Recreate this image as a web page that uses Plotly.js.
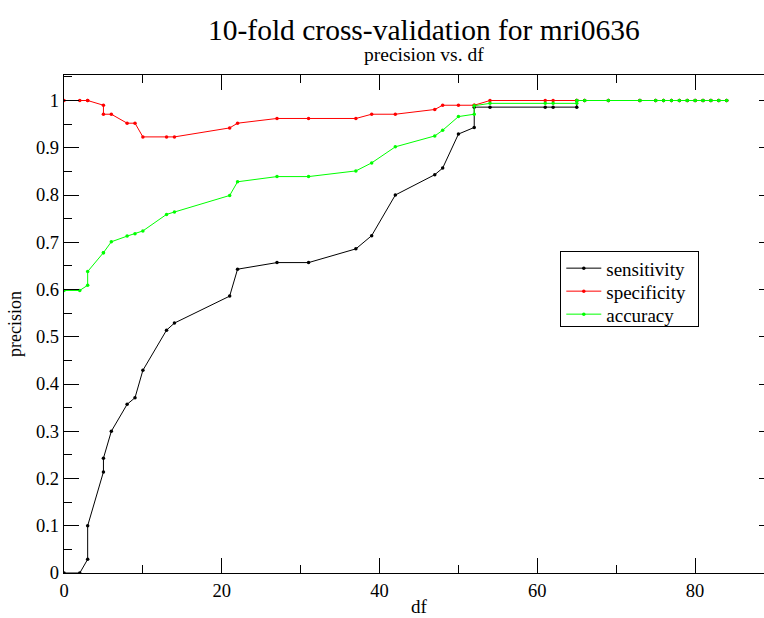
<!DOCTYPE html>
<html>
<head>
<meta charset="utf-8">
<script src="https://cdn.plot.ly/plotly-3.0.1.min.js"></script>
<style>
html, body { margin: 0; padding: 0; overflow: hidden; background: #fff; }
#chart { width: 800px; height: 618px; }
</style>
</head>
<body>
<div id="chart"></div>
<script>
// df values (shared by all three series)
const df = [0, 2, 3, 3, 5, 5, 6, 8, 9, 10, 13, 14, 21, 22, 27, 31, 37, 39, 42, 47, 48, 50, 52, 52, 54, 61, 62, 65, 65, 66, 69, 73, 75, 76, 77, 78, 79, 80, 81, 82, 83, 84];

const sensitivity = [0, 0, 0.029, 0.1, 0.214, 0.243, 0.3, 0.357, 0.371, 0.429, 0.514, 0.529, 0.586, 0.643, 0.657, 0.657, 0.686, 0.714, 0.8, 0.843, 0.857, 0.929, 0.943, 0.986, 0.986, 0.986, 0.986, 0.986, 1, 1, 1, 1, 1, 1, 1, 1, 1, 1, 1, 1, 1, 1];

const specificity = [1, 1, 1, 1, 0.990, 0.971, 0.971, 0.952, 0.952, 0.923, 0.923, 0.923, 0.942, 0.952, 0.962, 0.962, 0.962, 0.971, 0.971, 0.981, 0.990, 0.990, 0.990, 0.990, 1, 1, 1, 1, 1, 1, 1, 1, 1, 1, 1, 1, 1, 1, 1, 1, 1, 1];

const accuracy = [0.598, 0.598, 0.609, 0.638, 0.678, 0.678, 0.701, 0.713, 0.718, 0.724, 0.759, 0.764, 0.799, 0.828, 0.839, 0.839, 0.851, 0.868, 0.902, 0.925, 0.937, 0.966, 0.971, 0.989, 0.994, 0.994, 0.994, 0.994, 1, 1, 1, 1, 1, 1, 1, 1, 1, 1, 1, 1, 1, 1];

const seriesNames = ["sensitivity", "specificity", "accuracy"];
const xTickVals = [0, 20, 40, 60, 80];
const yTickVals = [0, 0.1, 0.2, 0.3, 0.4, 0.5, 0.6, 0.7, 0.8, 0.9, 1];
const yTickText = ["0", "0.1", "0.2", "0.3", "0.4", "0.5", "0.6", "0.7", "0.8", "0.9", "1"];

const FONT = "Liberation Serif";

function trace(y, name, color) {
  return {
    x: df, y: y, name: name, type: "scatter", mode: "lines+markers",
    line: { color: color, width: 1 },
    marker: { color: color, size: 3.5, symbol: "circle" }
  };
}

const data = [
  trace(sensitivity, seriesNames[0], "#000000"),
  trace(specificity, seriesNames[1], "#ff0000"),
  trace(accuracy, seriesNames[2], "#00ff00")
];

const axisCommon = {
  showgrid: false, zeroline: false, showline: true, linecolor: "#000", linewidth: 1.3,
  mirror: "allticks", ticks: "inside", ticklen: 15, tickwidth: 1, tickcolor: "#000",
  tickfont: { family: FONT, size: 18.5, color: "#000" }
};

const layout = {
  width: 800, height: 618,
  margin: { l: 64, r: 26, t: 75, b: 45 },
  paper_bgcolor: "#fff", plot_bgcolor: "#fff",
  font: { family: FONT, color: "#000" },
  showlegend: true,
  xaxis: Object.assign({}, axisCommon, {
    range: [0, 90], tickvals: xTickVals,
    minor: { dtick: 10, tick0: 0, ticks: "inside", ticklen: 8, tickcolor: "#000", showgrid: false },
    title: { text: "df", font: { family: FONT, size: 19, color: "#000" }, standoff: 0 }
  }),
  yaxis: Object.assign({}, axisCommon, {
    range: [0, 1.054], tickvals: yTickVals, ticktext: yTickText,
    minor: { dtick: 0.05, tick0: 0, ticks: "inside", ticklen: 8, tickcolor: "#000", showgrid: false },
    title: { text: "precision", font: { family: FONT, size: 18, color: "#000" }, standoff: 9 }
  }),
  legend: {
    x: 0.699, y: 0.646, xanchor: "left", yanchor: "top",
    bgcolor: "#fff", bordercolor: "#000", borderwidth: 1,
    font: { family: FONT, size: 19, color: "#000" },
    tracegroupgap: 0, itemwidth: 35
  },
  annotations: [
    { text: "10-fold cross-validation for mri0636", xref: "paper", yref: "paper",
      x: 0.507, y: (572.7 - 30) / 497.7, xanchor: "center", yanchor: "middle", showarrow: false,
      font: { family: FONT, size: 29.5, color: "#000" } },
    { text: "precision vs. df", xref: "paper", yref: "paper",
      x: 0.507, y: (572.7 - 55) / 497.7, xanchor: "center", yanchor: "middle", showarrow: false,
      font: { family: FONT, size: 19.5, color: "#000" } }
  ]
};

Plotly.newPlot("chart", data, layout, { displayModeBar: false, staticPlot: true }).then(function (gd) {
  // tighten legend rows and box to match the reference (23px rows, 138x75 box)
  const items = gd.querySelectorAll(".legend .traces");
  if (items.length < 2) return;
  const parse = function (el) {
    const m = /translate\(\s*([-\d.]+)[ ,]+([-\d.]+)\s*\)/.exec(el.getAttribute("transform") || "");
    return m ? [parseFloat(m[1]), parseFloat(m[2])] : [0, 0];
  };
  const first = parse(items[0]);
  const step = 23;
  items.forEach(function (el, i) {
    const p = parse(el);
    el.setAttribute("transform", "translate(" + p[0] + "," + (first[1] - 3 + i * step) + ")");
  });
  const bg = gd.querySelector(".legend .bg");
  if (bg) {
    bg.setAttribute("height", 75);
    bg.setAttribute("width", 138);
  }
  const clip = document.querySelector("clipPath[id*='legend'] rect");
  if (clip) {
    clip.setAttribute("height", 80);
    clip.setAttribute("width", 140);
  }
});
</script>
</body>
</html>
